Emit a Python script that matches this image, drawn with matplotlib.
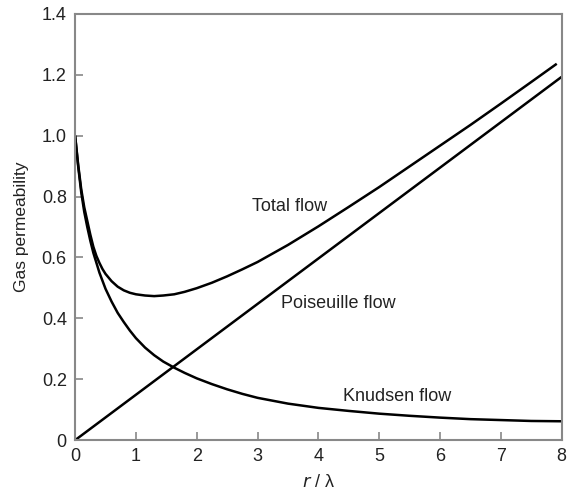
import matplotlib
matplotlib.use("Agg")
import matplotlib.pyplot as plt

# values
knudsen_x = [0, 0.05, 0.1, 0.15, 0.2, 0.25, 0.3, 0.4, 0.5, 0.6, 0.7, 0.8, 0.9, 1.0,
             1.15, 1.3, 1.45, 1.63, 1.8, 2.0, 2.25, 2.5, 2.75, 3.0, 3.5, 4.0, 4.5,
             5.0, 5.5, 6.0, 6.5, 7.0, 7.5, 8.0]
knudsen_y = [1.0, 0.9, 0.815, 0.75, 0.70, 0.655, 0.615, 0.55, 0.497, 0.455, 0.418,
             0.388, 0.36, 0.335, 0.304, 0.279, 0.258, 0.238, 0.221, 0.203, 0.184, 0.167,
             0.152, 0.139, 0.12, 0.106, 0.096, 0.087, 0.08, 0.074, 0.069, 0.066,
             0.063, 0.062]

poiseuille_x = [0, 8.0]
poiseuille_y = [0, 1.193]

total_x = [0, 0.05, 0.1, 0.15, 0.2, 0.25, 0.3, 0.35, 0.4, 0.45, 0.5, 0.6, 0.7, 0.8,
           0.9, 1.0, 1.15, 1.3, 1.45, 1.63, 1.8, 2.0, 2.25, 2.5, 2.75, 3.0, 3.5,
           4.0, 4.5, 5.0, 5.5, 6.0, 6.5, 7.0, 7.5, 7.92]
total_y = [1.0, 0.905, 0.825, 0.765, 0.72, 0.675, 0.635, 0.605, 0.582, 0.562, 0.546,
           0.522, 0.504, 0.492, 0.484, 0.479, 0.475, 0.473, 0.475, 0.479, 0.487,
           0.499, 0.517, 0.538, 0.561, 0.585, 0.641, 0.702, 0.766, 0.831, 0.899,
           0.967, 1.035, 1.105, 1.176, 1.236]

labels = ["Total flow", "Poiseuille flow", "Knudsen flow"]
label_pos = [(3.52, 0.767), (4.33, 0.449), (5.3, 0.144)]

plt.rcParams['font.family'] = ['Liberation Sans', 'DejaVu Sans']

fig = plt.figure(figsize=(5.69, 4.94), dpi=100)
ax = fig.add_axes([0.132, 0.109, 0.855, 0.863])

for xs, ys in [(knudsen_x, knudsen_y), (poiseuille_x, poiseuille_y), (total_x, total_y)]:
    ax.plot(xs, ys, color='black', lw=1.8, solid_capstyle='butt', solid_joinstyle='round')

for txt, (tx, ty) in zip(labels, label_pos):
    ax.text(tx, ty, txt, fontsize=13, ha='center', va='center', color='#222222')

ax.set_xlim(0, 8)
ax.set_ylim(0, 1.4)
ax.set_xticks(range(0, 9))
ax.set_yticks([0, 0.2, 0.4, 0.6, 0.8, 1.0, 1.2, 1.4])
ax.set_yticklabels(['0', '0.2', '0.4', '0.6', '0.8', '1.0', '1.2', '1.4'])

for s in ax.spines.values():
    s.set_color('#888888')
    s.set_linewidth(1.5)
ax.tick_params(direction='in', length=6, width=1.2, color='#888888',
               labelsize=13, labelcolor='#222222', pad=6)

ax.set_xlabel(r'$\it{r}$ / λ', fontsize=13, color='#222222', labelpad=6)
ax.set_ylabel('Gas permeability', fontsize=12.5, color='#222222', labelpad=9)

fig.savefig('out.png', dpi=100)
